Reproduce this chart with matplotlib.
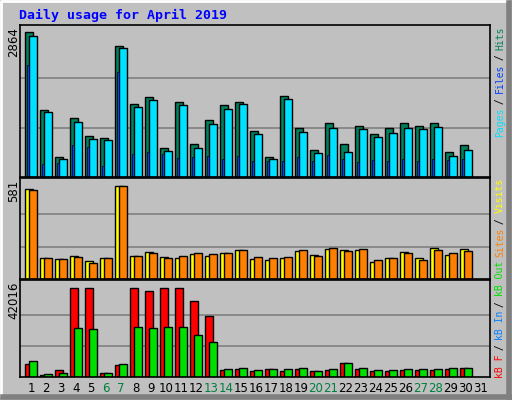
import matplotlib
matplotlib.use("Agg")
import matplotlib.pyplot as plt
from matplotlib.patches import Rectangle

days = list(range(1, 32))
hits = [2800,1300,380,1140,800,760,2540,1410,1540,570,1460,640,1100,1390,1460,890,380,1560,950,530,1050,630,990,840,950,1050,990,1050,480,610]
files = [2730,1260,340,1070,740,720,2500,1350,1490,500,1390,570,1030,1320,1410,840,340,1510,880,460,950,480,920,780,860,940,920,970,400,530]
pages = [2160,250,270,610,590,210,2040,440,480,440,360,380,400,340,400,300,300,300,380,300,420,340,290,320,300,340,300,340,320,340]
visits = [538,123,117,139,109,123,557,139,163,129,123,151,135,157,171,117,111,123,165,141,177,171,171,99,123,159,123,184,141,177]
sites = [532,123,117,129,97,123,557,139,157,123,135,157,151,157,171,129,123,129,171,135,184,165,177,111,123,153,111,171,153,165]
kb_f = [5750,880,3100,40240,40240,1770,5300,40240,38900,40240,40240,34490,27420,3100,3540,2650,3540,2650,3540,2650,3100,6190,3540,2650,2650,3100,3100,3100,3540,3980]
kb_in = [300,0,0,0,0,0,300,0,0,0,0,0,0,0,0,0,0,0,0,0,0,0,0,0,0,0,0,0,0,0]
kb_out = [7080,1330,1770,22110,21670,1770,5750,22550,22110,22550,22550,19010,15920,3540,3980,3100,3540,3540,3980,2650,3540,6190,3980,3100,3100,3540,3540,3540,3980,3980]
weekends = [6, 7, 13, 14, 20, 21, 27, 28]
max_hits, max_visits, max_kb = 2864, 581, 42016

W, H = 512, 400
BG = "#C0C0C0"
fig = plt.figure(figsize=(W/100, H/100), dpi=100, facecolor=BG)

def ax_px(x0, y0, x1, y1):
    return fig.add_axes([x0/W, 1-y1/H, (x1-x0)/W, (y1-y0)/H])

bg = fig.add_axes([0, 0, 1, 1]); bg.set_xlim(0, W); bg.set_ylim(H, 0); bg.axis("off")
bg.add_patch(Rectangle((0, 0), W, H, fc=BG, ec="none"))
bg.plot([1, 1, W-5], [H-5, 1, 1], color="white", lw=2)
bg.plot([W-3, W-3], [3, H-1], color="#808080", lw=4)
bg.plot([3, W-1], [H-3, H-3], color="#808080", lw=4)
bg.text(19, 15, "Daily usage for April 2019", color="#0000FF", fontsize=9.5,
        family="DejaVu Sans Mono", fontweight="bold", va="center", ha="left")

xl = (0.647, 0.647 + 470/15)
panels = [(25, 177, max_hits), (178, 279, max_visits), (280, 377, max_kb)]
axes = []
for (y0, y1, m) in panels:
    a = ax_px(20, y0, 490, y1)
    a.set_facecolor(BG)
    a.set_xlim(*xl)
    a.set_ylim(0, m * (y1 - y0 - 1) / (y1 - y0 - 5))
    for t in (m/3, 2*m/3):
        a.axhline(t, color="#808080", lw=1.2, zorder=0)
    a.set_xticks([]); a.set_yticks([])
    for s in a.spines.values():
        s.set_color("black"); s.set_linewidth(1.2)
    axes.append(a)

n = len(hits)
xs = days[:n]
w = 0.49
kw = dict(align="edge", edgecolor="black", linewidth=1)
a1, a2, a3 = axes
a1.bar(xs, hits, w, color="#00805C", **kw)
a1.bar([x+0.267 for x in xs], files, w, color="#00E0FF", **kw)
a1.bar([x+0.09 for x in xs], pages, 0.13, color="#0040FF", align="edge", edgecolor="black", linewidth=0.5)
a2.bar(xs, visits, w, color="#FFFF00", **kw)
a2.bar([x+0.267 for x in xs], sites, w, color="#FF8000", **kw)
a3.bar(xs, kb_f, w, color="#FF0000", **kw)
a3.bar([x+0.09 for x in xs], kb_in, 0.13, color="#0080FF", align="edge", edgecolor="black", linewidth=0.5)
a3.bar([x+0.267 for x in xs], kb_out, w, color="#00E000", **kw)

for d in days:
    bg.text(31 + 15*(d-1), 389, str(d), ha="center", va="center", fontsize=8.5,
            color="#008040" if d in weekends else "black")

for (y0, y1, m) in panels:
    bg.text(14, y0+2, str(m), rotation=90, ha="center", va="top", fontsize=8.5, color="black")

cw = 5.45
def vlabel(y_start, parts):
    y = y_start
    for txt, col in parts:
        bg.text(500, y, txt, rotation=90, ha="center", va="bottom", fontsize=7,
                family="DejaVu Sans Mono", color=col)
        y -= cw * len(txt)

vlabel(137, [("Pages", "#00E0FF"), (" / ", "black"), ("Files", "#0040FF"), (" / ", "black"), ("Hits", "#00805C")])
vlabel(257, [("Sites", "#FF8000"), (" / ", "black"), ("Visits", "#FFFF00")])
vlabel(378, [("kB F", "#FF0000"), (" / ", "black"), ("kB In", "#0080FF"), (" / ", "black"), ("kB Out", "#00E000")])

fig.savefig("out.png", dpi=100, facecolor=BG)
